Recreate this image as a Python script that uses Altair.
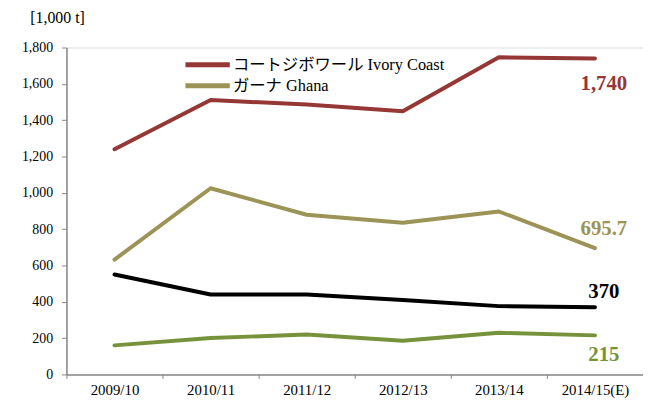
import altair as alt
import pandas as pd

years = ["2009/10", "2010/11", "2011/12", "2012/13", "2013/14", "2014/15(E)"]
series = ["コートジボワール Ivory Coast", "ガーナ Ghana", "インドネシア Indonesia", "ナイジェリア Nigeria"]
ivory = [1240, 1511, 1486, 1449, 1746, 1740]
ghana = [632, 1025, 879, 835, 897, 695.7]
third = [550, 440, 440, 410, 376, 370]
fourth = [160, 200, 220, 185, 229, 215]
end_labels = ["1,740", "695.7", "370", "215"]
colors = ["#953735", "#9c9357", "#000000", "#76933c"]
label_dy = [26, -19, -15, 20]

values = [ivory, ghana, third, fourth]
rows = []
for s, vals in zip(series, values):
    for y, v in zip(years, vals):
        rows.append({"series": s, "year": y, "value": v})
df = pd.DataFrame(rows)

SERIF = "'Liberation Serif', 'Times New Roman', serif"
MIXED = "'Liberation Serif', 'Noto Sans CJK JP', serif"

xenc = alt.X("year:N", sort=years, title=None,
             scale=alt.Scale(paddingInner=0, paddingOuter=0),
             axis=alt.Axis(bandPosition=0, tickBand="extent", labelAngle=0,
                           labelFont=SERIF, labelFontSize=15, labelColor="#000",
                           labelPadding=4, tickSize=4, tickColor="#888",
                           domainColor="#888", domainWidth=1.5, grid=False))
yenc = alt.Y("value:Q", title="[1,000 t]",
             scale=alt.Scale(domain=[0, 1800], nice=False, zero=True),
             axis=alt.Axis(values=list(range(0, 1801, 200)), format=",.0f",
                           labelFont=SERIF, labelFontSize=14, labelColor="#000",
                           labelPadding=9, tickSize=5, tickColor="#888",
                           domainColor="#888", domainWidth=1.5,
                           grid=False, titleAngle=0, titleAlign="left",
                           titleBaseline="top", titleX=-37, titleY=-38,
                           titleFont=SERIF, titleFontSize=16,
                           titleFontWeight="normal", titleColor="#000"))

color_scale = alt.Scale(domain=series, range=colors)

lines = alt.Chart(df).mark_line(strokeWidth=4, strokeCap="round", strokeJoin="round").encode(
    x=xenc, y=yenc,
    color=alt.Color("series:N", scale=color_scale,
                    legend=alt.Legend(title=None, values=series[:2], orient="none",
                                      legendX=132, legendY=7, symbolType="M-2.8,0H2.8",
                                      symbolSize=256, symbolStrokeWidth=5,
                                      labelFont=MIXED, labelFontSize=16.5,
                                      labelColor="#000", rowPadding=-2,
                                      labelOffset=15, labelLimit=400)),
    detail="series:N",
)

layers = [lines]
for s, vals, t, d, c in zip(series, values, end_labels, label_dy, colors):
    ldf = pd.DataFrame([{"year": years[-1], "value": vals[-1], "text": t}])
    layers.append(
        alt.Chart(ldf).mark_text(fontSize=21, fontWeight="bold", font=SERIF,
                                 dx=9, dy=d, baseline="middle", color=c).encode(
            x=xenc, y=yenc, text="text:N")
    )

chart = alt.layer(*layers).properties(
    width=582, height=330,
    padding={"left": 59, "top": 38, "right": 0, "bottom": 31},
    autosize=alt.AutoSizeParams(type="none"),
).configure_view(fill="#f2f2f2", stroke=None).configure(background="white")

chart.save("out.html", embed_options={"renderer": "svg", "actions": False})
